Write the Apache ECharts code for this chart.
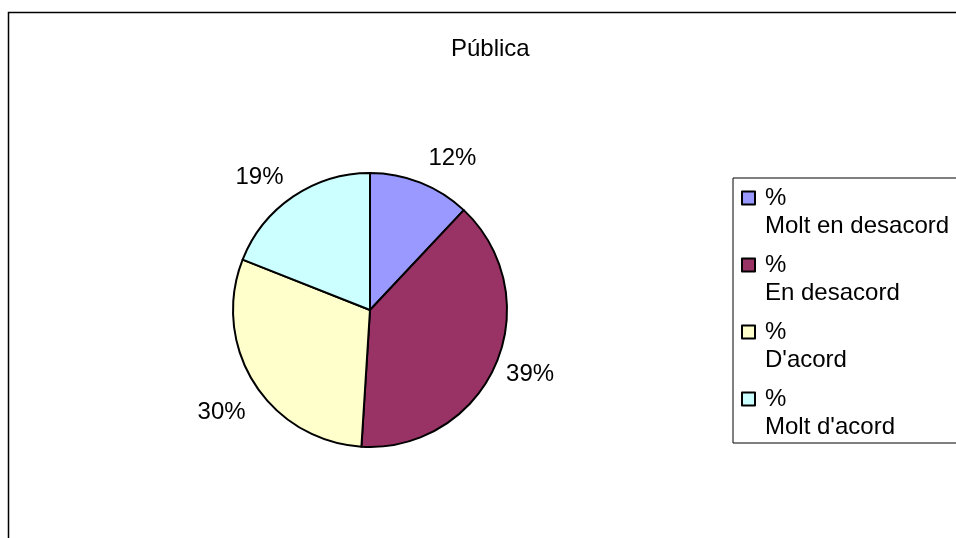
<!DOCTYPE html>
<html>
<head>
<meta charset="utf-8">
<script src="https://cdn.jsdelivr.net/npm/echarts@6/dist/echarts.min.js"></script>
<style>
  html, body { margin: 0; padding: 0; background: #fff; }
  #chart { width: 956px; height: 538px; }
</style>
</head>
<body>
<div id="chart"></div>
<script>
// Survey answers for the "Pública" group
const categories = ['Molt en desacord', 'En desacord', "D'acord", "Molt d'acord"];
const percentValues = [12, 39, 30, 19];
const sliceColors = ['#9999FF', '#993366', '#FFFFCC', '#CCFFFF'];
const titleText = 'Pública';

// small per-label shifts [dx, dy] applied after the outside placement
const labelNudge = [[0, -17], [-2, 7], [3, 25], [0, -13]];

const FONT = "'Liberation Sans', Arial, sans-serif";
const PIE_CENTER = [370, 310];

const chart = echarts.init(document.getElementById('chart'), null, { renderer: 'canvas' });

chart.setOption({
  backgroundColor: '#ffffff',
  animation: false,
  title: {
    text: titleText,
    left: 446,
    top: 32,
    padding: 5,
    textStyle: { fontFamily: FONT, fontSize: 24, fontWeight: 'normal', color: '#000' }
  },
  legend: {
    orient: 'vertical',
    left: 741,
    top: 156,
    padding: 0,
    itemGap: -17,
    itemWidth: 13,
    itemHeight: 13,
    icon: 'rect',
    itemStyle: { borderColor: '#000', borderWidth: 2 },
    // empty first line keeps the "%" line level with the swatch
    formatter: name => '\n%\n' + name,
    textStyle: {
      fontFamily: FONT, fontSize: 24, color: '#000',
      lineHeight: 28, padding: [0, 0, 0, 5]
    },
    data: categories
  },
  graphic: [
    {
      // outer chart frame
      type: 'rect', silent: true, z: -1,
      shape: { x: 8.5, y: 12.5, width: 1100, height: 700 },
      style: { fill: 'none', stroke: '#000', lineWidth: 1.5 }
    },
    {
      // legend frame
      type: 'rect', silent: true, z: -1,
      shape: { x: 733, y: 178, width: 300, height: 265 },
      style: { fill: '#fff', stroke: '#000', lineWidth: 1 }
    }
  ],
  series: [{
    type: 'pie',
    center: PIE_CENTER,
    radius: 137,
    startAngle: 90,
    clockwise: true,
    avoidLabelOverlap: false,
    itemStyle: { borderColor: '#000', borderWidth: 2 },
    label: {
      show: true,
      position: 'outside',
      formatter: p => p.value + '%',
      fontFamily: FONT, fontSize: 24, color: '#000',
      distanceToLabelLine: 5
    },
    labelLine: { show: false, length: 8, length2: 0 },
    labelLayout: p => {
      const n = labelNudge[p.dataIndex] || [0, 0];
      return { dx: n[0], dy: n[1] };
    },
    emphasis: { disabled: true },
    data: categories.map((c, i) => ({
      name: c,
      value: percentValues[i],
      itemStyle: { color: sliceColors[i] }
    }))
  }]
});
</script>
</body>
</html>
